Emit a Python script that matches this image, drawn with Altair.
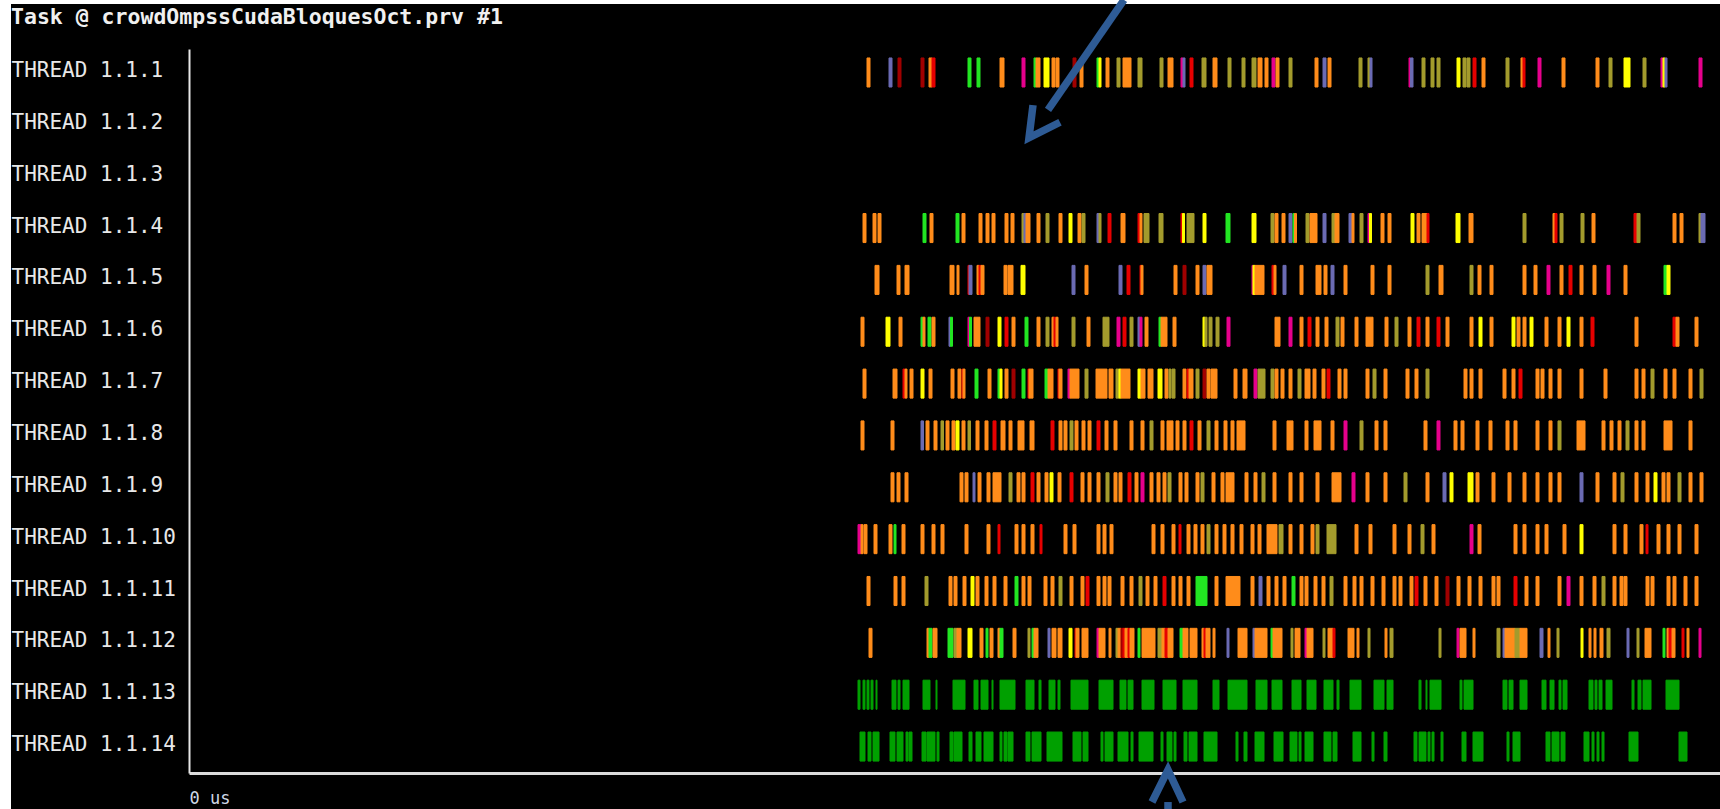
import altair as alt
import pandas as pd

# Paraver-style task timeline: one row per thread, one coloured segment per task burst.
THREAD_IDS = list(range(1, 15))
THREAD_PREFIX = "THREAD 1.1."
TRACE_TITLE = "Task @ crowdOmpssCudaBloquesOct.prv #1"
WINDOW_US = [0, 15310]

STATE_KEYS = ["O", "L", "Y", "G", "R", "D", "M", "B", "K"]
STATE_COLORS = ["#ff8c1a", "#a39b2c", "#ffff00", "#22e622", "#e60000",
                "#a00000", "#e6008c", "#6b6bb3", "#00a000"]

# (start_us, end_us, state)
T01 = [(6780, 6810, "O"), (7000, 7030, "B"), (7090, 7120, "D"), (7320, 7350, "D"),
       (7400, 7430, "O"), (7430, 7460, "R"), (7790, 7820, "G"), (7880, 7910, "G"),
       (8110, 8150, "O"), (8330, 8360, "M"), (8450, 8470, "G"), (8470, 8510, "O"),
       (8550, 8600, "Y"), (8630, 8660, "O"), (8670, 8700, "O"), (8840, 8870, "D"),
       (8910, 8940, "O"), (9080, 9100, "G"), (9100, 9120, "Y"), (9170, 9200, "O"),
       (9280, 9310, "L"), (9340, 9420, "O"), (9490, 9530, "L"), (9710, 9740, "L"),
       (9790, 9840, "O"), (9920, 9940, "M"), (9940, 9960, "B"), (10010, 10040, "R"),
       (10130, 10170, "L"), (10240, 10280, "O"), (10390, 10420, "L"), (10530, 10560, "L"),
       (10630, 10670, "L"), (10690, 10730, "O"), (10760, 10790, "O"), (10830, 10860, "M"),
       (10870, 10900, "O"), (11000, 11030, "L"), (11260, 11290, "O"), (11340, 11370, "B"),
       (11390, 11420, "O"), (11700, 11730, "L"), (11790, 11810, "L"), (11810, 11830, "B"),
       (12200, 12215, "M"), (12215, 12240, "B"), (12330, 12360, "L"), (12420, 12450, "L"),
       (12480, 12510, "L"), (12680, 12710, "Y"), (12740, 12770, "L"), (12780, 12810, "L"),
       (12840, 12870, "R"), (12930, 12960, "O"), (13170, 13200, "L"), (13320, 13340, "O"),
       (13340, 13360, "R"), (13490, 13520, "M"), (13730, 13760, "O"), (14070, 14100, "O"),
       (14200, 14230, "L"), (14350, 14410, "Y"), (14540, 14570, "L"), (14720, 14740, "M"),
       (14740, 14760, "Y"), (14760, 14780, "B"), (15100, 15130, "M")]

T04 = [(6740, 6770, "O"), (6840, 6870, "O"), (6890, 6920, "O"), (7340, 7370, "G"),
       (7410, 7440, "O"), (7670, 7700, "G"), (7730, 7760, "O"), (7900, 7930, "O"),
       (7970, 8000, "O"), (8030, 8060, "O"), (8160, 8190, "O"), (8220, 8250, "O"),
       (8330, 8350, "L"), (8350, 8370, "B"), (8370, 8410, "O"), (8480, 8510, "O"),
       (8570, 8600, "L"), (8700, 8730, "O"), (8800, 8830, "Y"), (8890, 8920, "O"),
       (8930, 8960, "L"), (9080, 9100, "B"), (9100, 9120, "L"), (9190, 9220, "R"),
       (9320, 9360, "O"), (9490, 9510, "R"), (9510, 9530, "O"), (9550, 9600, "L"),
       (9700, 9740, "L"), (9920, 9935, "R"), (9935, 9955, "Y"), (9980, 10050, "L"),
       (10140, 10170, "Y"), (10370, 10410, "G"), (10630, 10670, "Y"), (10820, 10850, "L"),
       (10860, 10890, "O"), (10930, 10960, "O"), (11000, 11030, "B"), (11040, 11055, "G"),
       (11055, 11075, "O"), (11170, 11200, "L"), (11210, 11280, "O"), (11340, 11370, "B"),
       (11430, 11460, "L"), (11460, 11500, "O"), (11600, 11630, "B"), (11630, 11650, "O"),
       (11710, 11740, "L"), (11790, 11805, "M"), (11805, 11825, "Y"), (11920, 11950, "O"),
       (11990, 12020, "O"), (12220, 12250, "Y"), (12280, 12310, "O"), (12330, 12380, "O"),
       (12380, 12400, "R"), (12670, 12710, "Y"), (12800, 12840, "O"), (13340, 13370, "L"),
       (13640, 13660, "O"), (13660, 13680, "R"), (13710, 13740, "L"), (13920, 13950, "L"),
       (14030, 14060, "O"), (14450, 14480, "R"), (14480, 14510, "L"), (14840, 14870, "O"),
       (14910, 14940, "O"), (15100, 15120, "L"), (15120, 15160, "B")]

T05 = [(6860, 6900, "O"), (7080, 7110, "O"), (7160, 7200, "O"), (7610, 7650, "O"),
       (7680, 7700, "O"), (7790, 7800, "R"), (7800, 7830, "B"), (7880, 7900, "O"),
       (7900, 7920, "R"), (7920, 7950, "O"), (8150, 8180, "O"), (8190, 8240, "O"),
       (8320, 8360, "Y"), (8830, 8860, "B"), (8960, 8990, "O"), (9300, 9330, "B"),
       (9380, 9410, "R"), (9510, 9520, "R"), (9520, 9540, "O"), (9850, 9880, "O"),
       (9940, 9970, "D"), (10070, 10100, "O"), (10140, 10170, "B"), (10180, 10230, "O"),
       (10630, 10640, "M"), (10640, 10660, "Y"), (10660, 10750, "O"), (10830, 10850, "R"),
       (10850, 10870, "O"), (10940, 10970, "B"), (11110, 11140, "O"), (11270, 11320, "O"),
       (11350, 11380, "O"), (11420, 11450, "B"), (11550, 11580, "O"), (11820, 11850, "O"),
       (11990, 12020, "O"), (12370, 12400, "L"), (12500, 12540, "O"), (12810, 12840, "L"),
       (12890, 12920, "O"), (13010, 13040, "O"), (13340, 13370, "O"), (13450, 13480, "O"),
       (13580, 13610, "M"), (13710, 13740, "O"), (13800, 13830, "R"), (13910, 13940, "O"),
       (14040, 14070, "O"), (14180, 14210, "M"), (14350, 14380, "O"), (14750, 14780, "G"),
       (14780, 14810, "Y")]

T06 = [(6720, 6750, "O"), (6970, 7010, "Y"), (7100, 7130, "O"), (7320, 7340, "G"),
       (7340, 7360, "O"), (7390, 7420, "G"), (7430, 7460, "O"), (7600, 7615, "B"),
       (7615, 7635, "G"), (7790, 7805, "M"), (7805, 7825, "G"), (7850, 7910, "O"),
       (7970, 8000, "D"), (8090, 8120, "Y"), (8160, 8190, "R"), (8230, 8260, "O"),
       (8360, 8390, "G"), (8480, 8510, "O"), (8570, 8600, "L"), (8630, 8650, "O"),
       (8650, 8670, "R"), (8670, 8690, "O"), (8830, 8860, "L"), (8980, 9010, "O"),
       (9140, 9200, "L"), (9280, 9310, "M"), (9340, 9370, "R"), (9410, 9440, "L"),
       (9490, 9510, "B"), (9510, 9530, "M"), (9560, 9590, "O"), (9700, 9720, "G"),
       (9720, 9780, "O"), (9840, 9870, "O"), (10140, 10160, "Y"), (10160, 10180, "L"),
       (10200, 10230, "L"), (10270, 10300, "L"), (10380, 10410, "M"), (10860, 10910, "O"),
       (11000, 11030, "M"), (11110, 11140, "O"), (11190, 11220, "R"), (11270, 11300, "O"),
       (11360, 11390, "O"), (11470, 11500, "L"), (11520, 11550, "O"), (11660, 11690, "O"),
       (11770, 11840, "O"), (11960, 11990, "O"), (12060, 12090, "L"), (12190, 12220, "O"),
       (12280, 12310, "R"), (12370, 12400, "O"), (12480, 12510, "R"), (12570, 12600, "O"),
       (12810, 12840, "O"), (12900, 12930, "Y"), (13010, 13040, "O"), (13230, 13260, "Y"),
       (13280, 13310, "O"), (13340, 13370, "O"), (13410, 13440, "Y"), (13560, 13590, "O"),
       (13690, 13720, "O"), (13780, 13810, "Y"), (13910, 13940, "O"), (14020, 14050, "R"),
       (14460, 14490, "O"), (14840, 14870, "R"), (14870, 14900, "O"), (15060, 15090, "O")]

T07 = [(6740, 6770, "O"), (7040, 7080, "O"), (7140, 7160, "R"), (7160, 7180, "O"),
       (7210, 7240, "O"), (7320, 7350, "Y"), (7400, 7430, "O"), (7620, 7650, "O"),
       (7690, 7720, "O"), (7730, 7740, "R"), (7740, 7760, "O"), (7860, 7890, "G"),
       (7990, 8020, "O"), (8090, 8110, "G"), (8110, 8130, "Y"), (8160, 8190, "O"),
       (8230, 8260, "D"), (8330, 8360, "G"), (8390, 8400, "R"), (8400, 8440, "O"),
       (8560, 8590, "G"), (8590, 8640, "O"), (8690, 8700, "R"), (8700, 8730, "O"),
       (8790, 8810, "M"), (8810, 8900, "O"), (8960, 8990, "L"), (9070, 9180, "O"),
       (9200, 9240, "O"), (9270, 9300, "L"), (9300, 9320, "Y"), (9320, 9410, "O"),
       (9490, 9520, "Y"), (9520, 9560, "O"), (9590, 9640, "O"), (9690, 9730, "Y"),
       (9760, 9790, "O"), (9800, 9820, "L"), (9830, 9860, "L"), (9940, 9970, "O"),
       (9980, 10000, "R"), (10000, 10040, "O"), (10070, 10100, "L"), (10140, 10170, "D"),
       (10180, 10210, "O"), (10220, 10280, "O"), (10450, 10480, "O"), (10540, 10580, "O"),
       (10650, 10680, "M"), (10690, 10760, "L"), (10820, 10850, "L"), (10860, 10890, "O"),
       (10920, 10950, "O"), (11000, 11030, "O"), (11090, 11120, "L"), (11160, 11210, "O"),
       (11240, 11270, "O"), (11330, 11360, "O"), (11380, 11410, "R"), (11490, 11520, "O"),
       (11550, 11580, "O"), (11770, 11800, "O"), (11840, 11870, "L"), (11950, 11980, "O"),
       (12170, 12200, "O"), (12260, 12290, "O"), (12370, 12400, "L"), (12750, 12780, "O"),
       (12810, 12840, "O"), (12900, 12930, "O"), (13140, 13170, "O"), (13230, 13260, "O"),
       (13300, 13330, "R"), (13470, 13500, "O"), (13520, 13550, "O"), (13600, 13630, "O"),
       (13690, 13720, "O"), (13910, 13940, "O"), (14150, 14180, "O"), (14460, 14490, "O"),
       (14530, 14560, "O"), (14620, 14650, "L"), (14750, 14780, "O"), (14840, 14870, "O"),
       (15000, 15030, "O"), (15110, 15140, "L")]

T08 = [(6720, 6750, "O"), (7020, 7050, "O"), (7320, 7345, "B"), (7370, 7400, "O"),
       (7450, 7480, "O"), (7520, 7545, "L"), (7570, 7600, "O"), (7630, 7660, "O"),
       (7670, 7700, "Y"), (7730, 7760, "O"), (7790, 7815, "L"), (7870, 7900, "O"),
       (7960, 7990, "O"), (8040, 8070, "R"), (8120, 8160, "O"), (8200, 8230, "O"),
       (8290, 8350, "O"), (8410, 8450, "O"), (8620, 8650, "R"), (8700, 8730, "O"),
       (8750, 8780, "O"), (8810, 8840, "L"), (8860, 8890, "O"), (8930, 8960, "O"),
       (8990, 9020, "O"), (9080, 9110, "R"), (9160, 9190, "O"), (9250, 9280, "O"),
       (9410, 9440, "O"), (9520, 9550, "O"), (9610, 9640, "L"), (9720, 9750, "O"),
       (9780, 9840, "O"), (9870, 9900, "O"), (9940, 9970, "O"), (10010, 10040, "R"),
       (10090, 10120, "O"), (10180, 10210, "L"), (10260, 10290, "O"), (10350, 10380, "O"),
       (10420, 10450, "O"), (10480, 10560, "O"), (10840, 10870, "O"), (10980, 11040, "O"),
       (11160, 11190, "O"), (11250, 11320, "O"), (11420, 11450, "O"), (11550, 11580, "M"),
       (11710, 11740, "L"), (11860, 11890, "O"), (11950, 11980, "O"), (12350, 12380, "O"),
       (12480, 12510, "M"), (12650, 12680, "O"), (12720, 12750, "O"), (12870, 12900, "O"),
       (13000, 13030, "O"), (13170, 13200, "O"), (13250, 13280, "O"), (13470, 13500, "O"),
       (13600, 13630, "O"), (13690, 13720, "L"), (13880, 13960, "O"), (14130, 14160, "O"),
       (14210, 14240, "O"), (14290, 14320, "O"), (14370, 14400, "L"), (14460, 14490, "O"),
       (14530, 14560, "O"), (14750, 14830, "O"), (15000, 15030, "O")]

T09 = [(7020, 7050, "O"), (7080, 7110, "O"), (7160, 7190, "O"), (7710, 7740, "O"),
       (7760, 7790, "O"), (7840, 7860, "B"), (7890, 7920, "O"), (7980, 8010, "O"),
       (8040, 8120, "O"), (8200, 8230, "L"), (8280, 8310, "O"), (8330, 8360, "O"),
       (8420, 8450, "R"), (8480, 8510, "O"), (8560, 8590, "O"), (8610, 8640, "Y"),
       (8690, 8720, "O"), (8810, 8840, "R"), (8920, 8950, "O"), (8990, 9020, "O"),
       (9080, 9110, "O"), (9170, 9200, "L"), (9250, 9280, "O"), (9300, 9330, "O"),
       (9390, 9420, "R"), (9460, 9490, "O"), (9520, 9550, "M"), (9610, 9640, "O"),
       (9680, 9710, "O"), (9740, 9770, "O"), (9790, 9820, "L"), (9900, 9930, "O"),
       (9960, 9990, "O"), (10070, 10100, "O"), (10120, 10150, "L"), (10230, 10260, "O"),
       (10320, 10350, "O"), (10370, 10450, "O"), (10560, 10590, "O"), (10650, 10680, "O"),
       (10730, 10760, "L"), (10840, 10870, "O"), (11000, 11030, "O"), (11110, 11140, "O"),
       (11270, 11300, "O"), (11430, 11520, "O"), (11630, 11660, "M"), (11770, 11800, "O"),
       (11950, 11980, "O"), (12150, 12180, "L"), (12370, 12400, "O"), (12540, 12570, "B"),
       (12610, 12640, "Y"), (12790, 12840, "Y"), (12870, 12900, "O"), (13030, 13060, "O"),
       (13190, 13220, "O"), (13340, 13370, "O"), (13470, 13500, "O"), (13600, 13630, "O"),
       (13690, 13720, "O"), (13910, 13940, "B"), (14070, 14100, "O"), (14240, 14270, "O"),
       (14320, 14350, "L"), (14460, 14490, "O"), (14570, 14600, "O"), (14650, 14680, "Y"),
       (14730, 14760, "O"), (14780, 14810, "O"), (14890, 14920, "L"), (15000, 15030, "O"),
       (15110, 15140, "O")]

T10 = [(6690, 6720, "M"), (6720, 6740, "O"), (6750, 6780, "O"), (6850, 6880, "O"),
       (7000, 7030, "O"), (7050, 7070, "G"), (7130, 7160, "O"), (7320, 7350, "O"),
       (7430, 7460, "O"), (7520, 7550, "O"), (7760, 7790, "O"), (7980, 8010, "O"),
       (8090, 8110, "R"), (8260, 8290, "O"), (8330, 8360, "O"), (8420, 8450, "O"),
       (8510, 8530, "R"), (8750, 8780, "O"), (8840, 8870, "O"), (9080, 9110, "O"),
       (9140, 9170, "O"), (9210, 9240, "O"), (9630, 9660, "O"), (9720, 9750, "O"),
       (9830, 9860, "O"), (9900, 9920, "R"), (9980, 10010, "O"), (10050, 10080, "O"),
       (10120, 10150, "O"), (10180, 10210, "L"), (10260, 10290, "O"), (10340, 10370, "O"),
       (10420, 10450, "O"), (10510, 10540, "O"), (10620, 10650, "O"), (10690, 10720, "O"),
       (10780, 10880, "O"), (10900, 10940, "L"), (11000, 11030, "O"), (11110, 11140, "O"),
       (11220, 11250, "O"), (11270, 11300, "L"), (11380, 11470, "L"), (11660, 11690, "O"),
       (11800, 11830, "O"), (12040, 12070, "O"), (12190, 12220, "O"), (12320, 12350, "L"),
       (12430, 12460, "O"), (12810, 12840, "M"), (12890, 12920, "O"), (13250, 13280, "O"),
       (13340, 13370, "O"), (13470, 13500, "O"), (13560, 13590, "O"), (13740, 13770, "O"),
       (13910, 13940, "Y"), (14240, 14270, "O"), (14350, 14380, "O"), (14510, 14540, "O"),
       (14570, 14590, "R"), (14680, 14710, "O"), (14780, 14810, "O"), (14890, 14920, "O"),
       (15060, 15090, "O")]

T11 = [(6780, 6810, "O"), (7050, 7080, "O"), (7130, 7160, "O"), (7360, 7390, "L"),
       (7600, 7630, "O"), (7650, 7680, "O"), (7740, 7770, "O"), (7820, 7850, "Y"),
       (7870, 7900, "O"), (7960, 7990, "O"), (8040, 8070, "O"), (8150, 8180, "O"),
       (8260, 8290, "G"), (8330, 8360, "O"), (8390, 8420, "O"), (8550, 8580, "O"),
       (8620, 8650, "O"), (8700, 8730, "L"), (8810, 8840, "O"), (8920, 8950, "O"),
       (8970, 9000, "R"), (9080, 9110, "O"), (9140, 9170, "O"), (9190, 9220, "O"),
       (9320, 9350, "O"), (9410, 9440, "O"), (9500, 9530, "L"), (9570, 9600, "O"),
       (9650, 9680, "O"), (9740, 9770, "R"), (9830, 9860, "O"), (9900, 9930, "O"),
       (9980, 10010, "O"), (10070, 10180, "G"), (10260, 10290, "O"), (10370, 10510, "O"),
       (10620, 10650, "O"), (10700, 10730, "B"), (10780, 10810, "O"), (10860, 10890, "O"),
       (10940, 10970, "O"), (11030, 11060, "G"), (11110, 11140, "O"), (11160, 11190, "O"),
       (11250, 11280, "O"), (11330, 11360, "O"), (11410, 11440, "L"), (11550, 11580, "O"),
       (11640, 11670, "O"), (11710, 11740, "O"), (11820, 11850, "O"), (11930, 11960, "O"),
       (12040, 12070, "O"), (12100, 12130, "O"), (12210, 12240, "O"), (12260, 12290, "R"),
       (12350, 12380, "O"), (12460, 12490, "O"), (12570, 12600, "D"), (12680, 12710, "O"),
       (12790, 12820, "O"), (12900, 12930, "O"), (13030, 13060, "O"), (13080, 13110, "O"),
       (13250, 13280, "R"), (13360, 13390, "O"), (13470, 13500, "O"), (13690, 13720, "O"),
       (13780, 13810, "M"), (13910, 13940, "O"), (14040, 14070, "O"), (14130, 14160, "L"),
       (14240, 14270, "O"), (14310, 14340, "O"), (14350, 14380, "O"), (14570, 14600, "O"),
       (14620, 14650, "O"), (14780, 14810, "O"), (14840, 14870, "O"), (14950, 14980, "O"),
       (15060, 15090, "O")]

T12 = [(6800, 6830, "O"), (7380, 7400, "O"), (7400, 7430, "G"), (7440, 7480, "O"),
       (7590, 7640, "G"), (7650, 7680, "L"), (7680, 7720, "O"), (7790, 7830, "Y"),
       (7910, 7940, "O"), (7970, 7990, "G"), (8010, 8040, "O"), (8090, 8110, "O"),
       (8110, 8140, "G"), (8240, 8270, "O"), (8390, 8410, "L"), (8430, 8450, "G"),
       (8450, 8490, "O"), (8590, 8610, "B"), (8630, 8670, "O"), (8690, 8730, "O"),
       (8800, 8830, "Y"), (8860, 8870, "R"), (8870, 8900, "O"), (8930, 8990, "O"),
       (9080, 9100, "M"), (9100, 9160, "O"), (9200, 9220, "O"), (9270, 9290, "L"),
       (9290, 9320, "O"), (9320, 9340, "D"), (9340, 9360, "R"), (9360, 9390, "O"),
       (9390, 9410, "R"), (9410, 9450, "O"), (9490, 9510, "G"), (9530, 9660, "O"),
       (9690, 9730, "L"), (9730, 9760, "O"), (9760, 9790, "R"), (9790, 9840, "O"),
       (9910, 9940, "G"), (9940, 9990, "O"), (10010, 10080, "O"), (10130, 10150, "O"),
       (10150, 10170, "R"), (10170, 10210, "O"), (10240, 10260, "O"), (10380, 10400, "B"),
       (10490, 10580, "O"), (10640, 10660, "B"), (10660, 10780, "O"), (10820, 10840, "G"),
       (10840, 10930, "O"), (11020, 11040, "L"), (11060, 11110, "O"), (11160, 11180, "M"),
       (11180, 11240, "O"), (11340, 11360, "L"), (11390, 11440, "O"), (11440, 11460, "R"),
       (11590, 11650, "O"), (11680, 11700, "O"), (11790, 11810, "L"), (11960, 11980, "O"),
       (12010, 12040, "L"), (12500, 12520, "L"), (12680, 12700, "M"), (12710, 12770, "O"),
       (12840, 12860, "O"), (13080, 13110, "L"), (13140, 13160, "B"), (13160, 13260, "O"),
       (13260, 13310, "L"), (13310, 13380, "O"), (13510, 13540, "B"), (13590, 13610, "O"),
       (13680, 13700, "L"), (13920, 13940, "Y"), (14000, 14020, "O"), (14050, 14070, "O"),
       (14110, 14140, "O"), (14180, 14210, "L"), (14380, 14400, "B"), (14480, 14500, "L"),
       (14560, 14620, "O"), (14740, 14760, "G"), (14780, 14800, "O"), (14800, 14830, "R"),
       (14830, 14860, "O"), (14930, 14950, "R"), (14980, 15000, "O"), (15100, 15120, "M")]

T13 = [(6690, 6710, "K"), (6740, 6760, "K"), (6780, 6800, "K"), (6820, 6840, "K"),
       (6870, 6880, "K"), (7030, 7070, "K"), (7090, 7110, "K"), (7140, 7200, "K"),
       (7340, 7410, "K"), (7470, 7480, "K"), (7640, 7760, "K"), (7850, 7890, "K"),
       (7920, 7990, "K"), (8030, 8040, "K"), (8110, 8260, "K"), (8370, 8450, "K"),
       (8500, 8520, "K"), (8600, 8660, "K"), (8690, 8710, "K"), (8820, 8990, "K"),
       (9100, 9240, "K"), (9310, 9370, "K"), (9390, 9440, "K"), (9530, 9650, "K"),
       (9740, 9870, "K"), (9940, 10080, "K"), (10240, 10300, "K"), (10390, 10580, "K"),
       (10670, 10780, "K"), (10830, 10930, "K"), (11030, 11120, "K"), (11180, 11270, "K"),
       (11350, 11440, "K"), (11480, 11500, "K"), (11610, 11720, "K"), (11850, 11950, "K"),
       (11980, 12040, "K"), (12300, 12320, "K"), (12370, 12380, "K"), (12410, 12520, "K"),
       (12710, 12730, "K"), (12750, 12840, "K"), (13140, 13180, "K"), (13200, 13240, "K"),
       (13310, 13380, "K"), (13530, 13570, "K"), (13610, 13650, "K"), (13700, 13720, "K"),
       (13740, 13780, "K"), (14000, 14040, "K"), (14060, 14080, "K"), (14100, 14130, "K"),
       (14170, 14230, "K"), (14430, 14450, "K"), (14490, 14520, "K"), (14540, 14620, "K"),
       (14770, 14900, "K")]

T14 = [(6710, 6760, "K"), (6790, 6820, "K"), (6840, 6900, "K"), (7010, 7060, "K"),
       (7080, 7140, "K"), (7170, 7190, "K"), (7200, 7230, "K"), (7330, 7370, "K"),
       (7380, 7460, "K"), (7480, 7500, "K"), (7610, 7640, "K"), (7650, 7730, "K"),
       (7800, 7830, "K"), (7870, 7920, "K"), (7950, 8040, "K"), (8110, 8130, "K"),
       (8150, 8180, "K"), (8190, 8240, "K"), (8370, 8410, "K"), (8430, 8520, "K"),
       (8580, 8730, "K"), (8840, 8920, "K"), (8940, 8990, "K"), (9120, 9140, "K"),
       (9160, 9240, "K"), (9290, 9390, "K"), (9420, 9440, "K"), (9500, 9640, "K"),
       (9720, 9740, "K"), (9780, 9830, "K"), (9850, 9870, "K"), (9950, 9980, "K"),
       (10000, 10080, "K"), (10150, 10280, "K"), (10470, 10490, "K"), (10550, 10580, "K"),
       (10660, 10750, "K"), (10850, 10940, "K"), (11010, 11080, "K"), (11100, 11120, "K"),
       (11160, 11240, "K"), (11350, 11420, "K"), (11440, 11480, "K"), (11640, 11720, "K"),
       (11830, 11850, "K"), (11950, 11980, "K"), (12250, 12280, "K"), (12300, 12370, "K"),
       (12390, 12410, "K"), (12430, 12450, "K"), (12520, 12540, "K"), (12730, 12770, "K"),
       (12840, 12940, "K"), (13180, 13200, "K"), (13240, 13310, "K"), (13570, 13610, "K"),
       (13630, 13700, "K"), (13720, 13760, "K"), (13950, 14000, "K"), (14030, 14050, "K"),
       (14080, 14100, "K"), (14130, 14150, "K"), (14400, 14490, "K"), (14900, 14980, "K")]

TIMELINE = {1: T01, 4: T04, 5: T05, 6: T06, 7: T07, 8: T08, 9: T09, 10: T10,
            11: T11, 12: T12, 13: T13, 14: T14}

# Annotation arrows, in (time_us, row) coordinates; paths are drawn in listed order.
ARROW_PATHS = {
    "top_shaft": [(9350, -0.40), (8590, 1.72)],
    "top_head": [(8440, 1.63), (8400, 2.26), (8710, 1.96)],
    "bottom_head": [(9630, 15.07), (9790, 14.45), (9940, 15.07)],
    "bottom_shaft": [(9790, 15.07), (9790, 15.45)],
}

records = []
for thread, segments in TIMELINE.items():
    for start, end, state in segments:
        records.append({"thread": thread, "start": start, "end": end, "state": state})
bars_df = pd.DataFrame(records)

arrow_records = []
for name, pts in ARROW_PATHS.items():
    for i, (t, r) in enumerate(pts):
        arrow_records.append({"path": name, "order": i, "t": t, "row": r})
arrow_df = pd.DataFrame(arrow_records)

ROW_HALF = 0.28
x_scale = alt.Scale(domain=WINDOW_US, nice=False, zero=False)
y_scale = alt.Scale(domain=[0.547, 14.51], reverse=True, nice=False, zero=False)
state_scale = alt.Scale(domain=STATE_KEYS, range=STATE_COLORS)

x_axis = alt.Axis(values=[0], labelExpr="datum.value + ' us'", title=None, grid=False,
                  ticks=False, domainColor="#dcdcdc", domainWidth=3,
                  labelAlign="left", labelBaseline="top", labelPadding=17,
                  labelFont="DejaVu Sans Mono", labelFontSize=17, labelColor="#cfd8e6")
y_axis = alt.Axis(values=THREAD_IDS, labelExpr=f"'{THREAD_PREFIX}' + datum.value",
                  title=None, grid=False, ticks=False, domainColor="#e6e6e6",
                  domainWidth=2, labelAlign="left", labelBaseline="middle",
                  labelPadding=178, labelOffset=-2, labelFont="DejaVu Sans Mono",
                  labelFontSize=21, labelColor="#e8e8e8")

bars = alt.Chart(bars_df).transform_calculate(
    y0=f"datum.thread - {ROW_HALF}", y1=f"datum.thread + {ROW_HALF}"
).mark_rect(strokeWidth=1).encode(
    x=alt.X("start:Q", scale=x_scale, axis=x_axis),
    x2="end:Q",
    y=alt.Y("y0:Q", scale=y_scale, axis=y_axis),
    y2="y1:Q",
    color=alt.Color("state:N", scale=state_scale, legend=None),
    stroke=alt.Stroke("state:N", scale=state_scale, legend=None),
)

# Light frame along the left and top edges of the window capture.
frame_df = pd.DataFrame({"edge": ["left", "top"]})
left_edge = alt.Chart(frame_df).transform_filter("datum.edge == 'left'").mark_rect(
    color="#ffffff").encode(x=alt.value(-189), x2=alt.value(-178),
                             y=alt.value(-49), y2=alt.value(760))
top_edge = alt.Chart(frame_df).transform_filter("datum.edge == 'top'").mark_rect(
    color="#ffffff").encode(x=alt.value(-189), x2=alt.value(1531),
                             y=alt.value(-49), y2=alt.value(-45))

# Window caption, written above the timeline at the left edge.
caption = alt.Chart(pd.DataFrame({"caption": [TRACE_TITLE]})).mark_text(
    align="left", baseline="alphabetic", font="DejaVu Sans Mono", fontSize=21.5,
    fontWeight="bold", color="#f0f0f0"
).encode(x=alt.value(-178), y=alt.value(-25), text="caption:N")

arrows = alt.Chart(arrow_df).mark_line(
    color="#2e5b95", strokeWidth=7.5, strokeCap="butt", strokeJoin="miter"
).encode(
    x=alt.X("t:Q", scale=x_scale),
    y=alt.Y("row:Q", scale=y_scale),
    detail="path:N",
    order="order:Q",
)

chart = alt.layer(bars, left_edge, top_edge, caption, arrows).properties(
    width=1531, height=724,
    padding={"left": 189, "top": 49, "right": 0, "bottom": 36},
    autosize=alt.AutoSizeParams(type="none"),
    background="#000000",
).configure_view(stroke=None)

chart.save("out.html", embed_options={"renderer": "svg", "actions": False})
